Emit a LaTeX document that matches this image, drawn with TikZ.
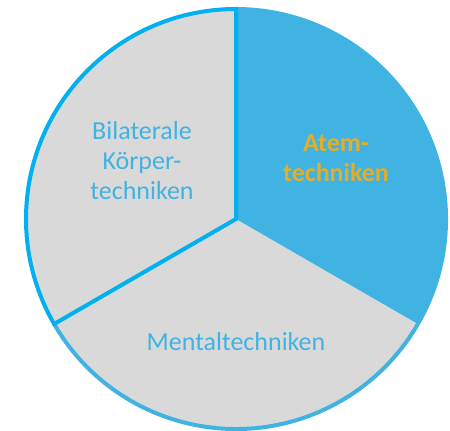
\documentclass[tikz,border=0pt]{standalone}
\usepackage{fontspec}
\setmainfont{Carlito}
\usetikzlibrary{calc}
\definecolor{pieblue}{HTML}{41B3E2}
\definecolor{brightblue}{HTML}{00B0F0}
\definecolor{piegray}{HTML}{D9D9D9}
\definecolor{gold}{HTML}{E2AE2A}
\begin{document}
\begin{tikzpicture}[x=1pt,y=1pt,
  lbl/.style={text=pieblue, font=\fontsize{26}{30}\selectfont, align=center, inner sep=0pt},
  lblbold/.style={text=gold, font=\fontsize{26}{30}\selectfont\bfseries, align=center, inner sep=0pt}]
\useasboundingbox (0,0) rectangle (450,431);
\coordinate (c) at (236,212);
% bottom sector
\fill[piegray] (c) -- ++(210:210) arc[start angle=210,end angle=330,radius=210] -- cycle;
\draw[pieblue, line width=4pt] ($(c)+(210:210)$) arc[start angle=210,end angle=330,radius=210];
% blue sector
\fill[pieblue] (c) -- ++(-30:212) arc[start angle=-30,end angle=90,radius=212] -- cycle;
% left sector
\draw[brightblue, fill=piegray, line width=4pt, line join=miter] (c) -- ++(90:210) arc[start angle=90,end angle=210,radius=210] -- cycle;
\node[lbl] (bil) at (142,270) {Bilaterale\\Körper-\\techniken};
\node[lblbold] (atem) at (336,273) {Atem-\\techniken};
\node[lbl] (ment) at (236,89) {Mentaltechniken};
\end{tikzpicture}
\end{document}
